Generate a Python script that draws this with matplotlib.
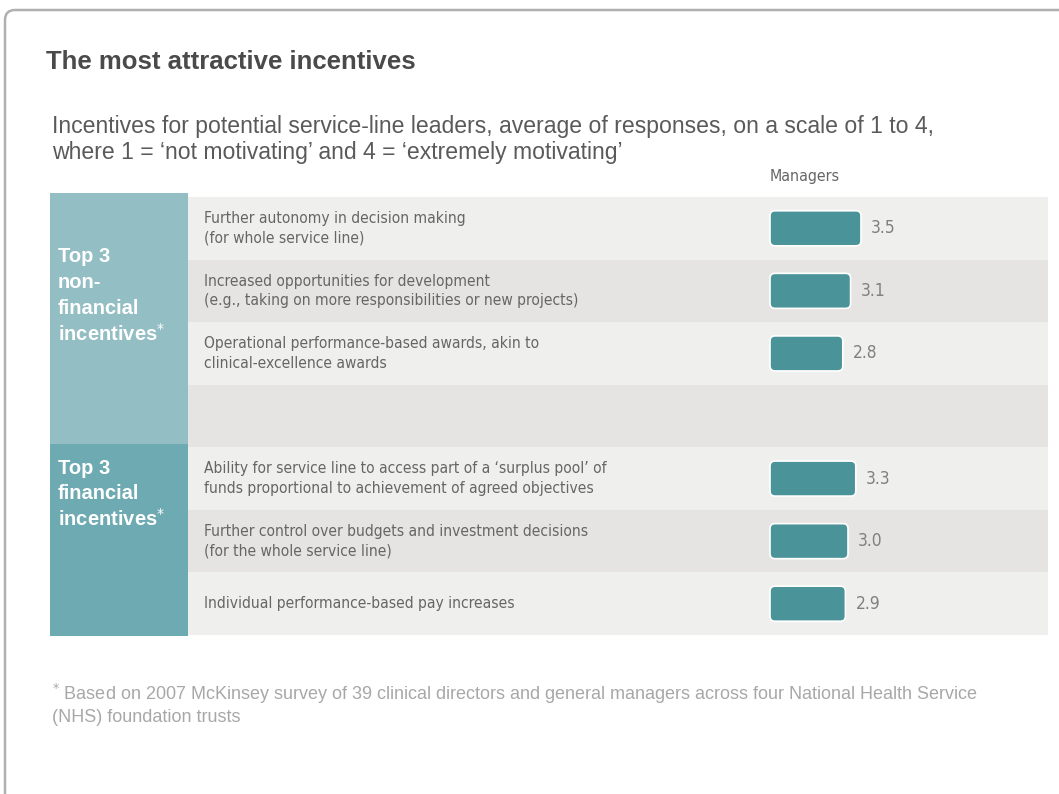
import matplotlib
matplotlib.use('Agg')
import matplotlib.pyplot as plt
from matplotlib import font_manager
from matplotlib.patches import Rectangle, FancyBboxPatch

# 数据
incentives = [
    "Further autonomy in decision making\n(for whole service line)",
    "Increased opportunities for development\n(e.g., taking on more responsibilities or new projects)",
    "Operational performance-based awards, akin to\nclinical-excellence awards",
    "Ability for service line to access part of a \u2018surplus pool\u2019 of\nfunds proportional to achievement of agreed objectives",
    "Further control over budgets and investment decisions\n(for the whole service line)",
    "Individual performance-based pay increases",
]
managers = [3.5, 3.1, 2.8, 3.3, 3.0, 2.9]
slots = [0, 1, 2, 4, 5, 6]   # 第 3 行留空
groups = [["Top 3", "non-", "financial", "incentives"],
          ["Top 3", "financial", "incentives"]]

# 样式
W, H = 1059, 794
TEAL = "#4a9399"
BOX_TOP = "#93bec4"
BOX_BOTTOM = "#6eaab2"
BAND_LIGHT = "#efefed"
BAND_DARK = "#e5e4e2"
SANS = ['Liberation Sans', 'DejaVu Sans']
PX_PER_UNIT = 26.0

# 找一个窄体字体, 没有就退回 Liberation Sans
# (行标签字号, 数值字号, Managers 字号)
fonts = [(f.name, f.stretch) for f in font_manager.fontManager.ttflist]
names = {n for n, _ in fonts}
if 'Liberation Sans Narrow' in names:
    NARROW, NARROW_STRETCH, SIZES = ['Liberation Sans Narrow', 'DejaVu Sans'], 'normal', (13.5, 14, 13.5)
elif any(n == 'DejaVu Sans' and s == 'condensed' for n, s in fonts):
    NARROW, NARROW_STRETCH, SIZES = ['DejaVu Sans'], 'condensed', (11.2, 12.5, 11.4)
elif 'Roboto Condensed' in names:
    NARROW, NARROW_STRETCH, SIZES = ['Roboto Condensed', 'DejaVu Sans'], 'normal', (12.5, 13.5, 12.5)
else:
    NARROW, NARROW_STRETCH, SIZES = SANS, 'normal', (11.5, 12.5, 11.5)
ROW_FS, VAL_FS, HEAD_FS = SIZES

fig = plt.figure(figsize=(W / 100, H / 100), dpi=100)
fig.patch.set_facecolor('white')

# 像素坐标的底层画布
ax = fig.add_axes([0, 0, 1, 1])
ax.set_xlim(0, W)
ax.set_ylim(H, 0)
ax.axis('off')

# 外框
ax.add_patch(FancyBboxPatch((5, 10), 1200, 1000, boxstyle="round,pad=0,rounding_size=10",
                            fill=False, edgecolor="#b0b0b0", linewidth=1.8))

ax.text(46, 62, "The most attractive incentives", fontsize=18.5, fontweight='bold',
        color="#4a4a4a", family=SANS, va='center', ha='left')
ax.text(52, 127, "Incentives for potential service-line leaders, average of responses, on a scale of 1 to 4,",
        fontsize=16.6, color="#5a5a5a", family=SANS, va='center', ha='left')
ax.text(52, 153, "where 1 = \u2018not motivating\u2019 and 4 = \u2018extremely motivating\u2019",
        fontsize=16.6, color="#5a5a5a", family=SANS, va='center', ha='left')
ax.text(770, 177, "Managers", fontsize=HEAD_FS, color="#666666", family=NARROW,
        fontstretch=NARROW_STRETCH, va='center', ha='left')

# 左侧分组色块
ax.add_patch(Rectangle((50, 193), 138, 251, color=BOX_TOP, linewidth=0))
ax.add_patch(Rectangle((50, 444), 138, 192, color=BOX_BOTTOM, linewidth=0))
for lines, y0 in zip(groups, [257, 468]):
    for k, line in enumerate(lines):
        txt = line + ("$^{*}$" if k == len(lines) - 1 else "")
        ax.text(58, y0 + k * 25.5, txt, fontsize=14.5, fontweight='bold', color='white',
                family=SANS, va='center', ha='left')

# 表格与条形
top_px, bot_px = 197, 635
tab = fig.add_axes([188 / W, 1 - bot_px / H, 860 / W, (bot_px - top_px) / H])
tab.set_ylim(6.5, -0.5)
tab.set_xlim(-(770 - 188) / PX_PER_UNIT, (1048 - 770) / PX_PER_UNIT)
tab.axis('off')

for i in range(7):
    tab.axhspan(i - 0.5, i + 0.5, color=BAND_LIGHT if i % 2 == 0 else BAND_DARK, linewidth=0, zorder=0)

bars = tab.barh(slots, managers, height=0.56, left=0, color='none', linewidth=0)
slot_px = (bot_px - top_px) / 7
for bar, val, label, s in zip(bars, managers, incentives, slots):
    x, y = bar.get_x(), bar.get_y()
    w, h = bar.get_width(), bar.get_height()
    tab.add_patch(FancyBboxPatch((x, y), w, h,
                                 boxstyle="round,pad=0,rounding_size=%f" % (5 / PX_PER_UNIT),
                                 mutation_aspect=PX_PER_UNIT / slot_px,
                                 facecolor=TEAL, edgecolor='white', linewidth=1.2, zorder=3))
    tab.text(w + 10 / PX_PER_UNIT, s, f"{val:.1f}", fontsize=VAL_FS, color="#808080",
             family=NARROW, fontstretch=NARROW_STRETCH, va='center', ha='left')
    tab.text(16 / 860, s, label, transform=tab.get_yaxis_transform(), fontsize=ROW_FS,
             color="#666666", family=NARROW, fontstretch=NARROW_STRETCH,
             va='center', ha='left', linespacing=1.38)

# 脚注
ax.text(52, 694, "$^{*}$ Based on 2007 McKinsey survey of 39 clinical directors and general managers across four National Health Service",
        fontsize=13, color="#a8a8a8", family=SANS, va='center', ha='left')
ax.text(52, 717, "(NHS) foundation trusts", fontsize=13, color="#a8a8a8", family=SANS, va='center', ha='left')

fig.savefig("out.png", dpi=100, facecolor='white')
